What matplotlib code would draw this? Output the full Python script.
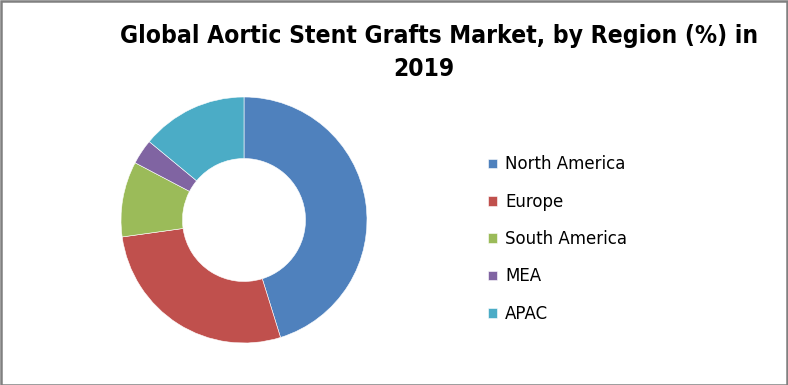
import matplotlib
matplotlib.use("Agg")
import matplotlib.pyplot as plt
from matplotlib import font_manager as fm
from matplotlib.patches import Rectangle

regions = ["North America", "Europe", "South America", "MEA", "APAC"]
shares = [45.2, 27.6, 9.9, 3.3, 14.0]
colors = ["#4F81BD", "#C0504D", "#9BBB59", "#8064A2", "#4BACC6"]
title_line1 = "Global Aortic Stent Grafts Market, by Region (%) in"
title_line2 = "2019"

# look for a condensed/narrow bold family to mimic Calibri bold
cand = None
for f in fm.fontManager.ttflist:
    if ("Narrow" in f.name or "Condensed" in f.name or f.stretch in ("condensed", "semi-condensed")) and f.weight in ("bold", 700):
        cand = f.fname
        break
title_kw = dict(fontweight="bold")
if cand:
    title_kw = dict(fontproperties=fm.FontProperties(fname=cand))

W, H = 788, 385
fig = plt.figure(figsize=(W / 100, H / 100), dpi=100)
fig.patch.set_facecolor("white")
fig.add_artist(Rectangle((0.5 / W, 0.5 / H), 1 - 1.5 / W, 1 - 1.5 / H,
                         transform=fig.transFigure, fill=False,
                         edgecolor="#808080", linewidth=1.8))

cx, cy, r = 244, 220, 123
ax = fig.add_axes([(cx - r) / W, (H - cy - r) / H, 2 * r / W, 2 * r / H])
wedges, _ = ax.pie(shares, colors=colors, startangle=90, counterclock=False,
                   radius=1.0, wedgeprops=dict(width=0.5, edgecolor="white", linewidth=0.4))
ax.set_xlim(-1, 1)
ax.set_ylim(-1, 1)
ax.set_aspect("equal")
ax.axis("off")

t1 = fig.text(439 / W, 1 - 36 / H, title_line1, ha="center", va="center", **title_kw)
t2 = fig.text(424 / W, 1 - 69 / H, title_line2, ha="center", va="center", **title_kw)
t1.set_fontsize(20)
t2.set_fontsize(20)
renderer = fig.canvas.get_renderer()
w = t1.get_window_extent(renderer).width
size = min(20 * 638 / w, 21)
t1.set_fontsize(size)
t2.set_fontsize(size)

leg = fig.legend(wedges, regions, loc="upper left", bbox_to_anchor=(475 / W, 1 - 142 / H),
                 frameon=False, handlelength=0.5, handleheight=0.5,
                 handletextpad=0.5, labelspacing=1.16, borderpad=0.3,
                 prop={"family": "DejaVu Sans", "size": 12})

fig.savefig("out.png", dpi=100, facecolor="white")
